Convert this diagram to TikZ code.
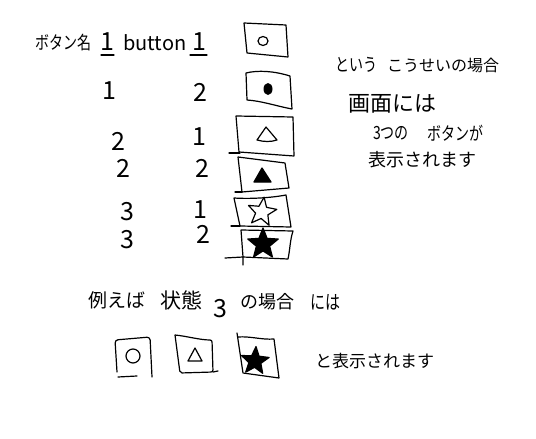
\documentclass[tikz,border=0pt]{standalone}
\usepackage{fontspec}
\setmainfont{Noto Sans CJK JP}
\usetikzlibrary{shapes.geometric}
\tikzset{
  pen/.style={line width=1.2pt,line cap=round,line join=round,black},
  inked/.style={pen,fill=black},
  txt/.style={inner sep=0pt,black,font=\fontsize{14}{14}\selectfont},
  tall/.style={transform shape,yscale=1.3},
  num/.style={inner sep=0pt,black,font=\fontsize{25}{25}\selectfont},
  starout/.style={star,star points=5,star point ratio=2.3,inner sep=0pt,pen,draw},
  starfull/.style={starout,fill=black}
}
\begin{document}
\begin{tikzpicture}[x=1pt,y=-1pt]
\useasboundingbox (0,0) rectangle (536,439);
\fill[white] (0,0) rectangle (536,439);
% table heading
\node[txt,tall,anchor=west] (h1) at (35,43) {ボタン名};
\node[num,anchor=center] (h2) at (107,42) {1};
\draw[pen] (101,55) -- (114,55);
\node[txt,anchor=west,font=\fontsize{20}{20}\selectfont] (h3) at (123,43) {button};
\node[num,anchor=center] (h4) at (199,42) {1};
\draw[pen] (190,55) -- (207,55);
% digits
\node[num] (a1) at (109,91) {1};
\node[num] (a2) at (200,92) {2};
\node[num] (b1) at (118,141) {2};
\node[num] (b2) at (199,137) {1};
\node[num] (c1) at (123,168) {2};
\node[num] (c2) at (202,168) {2};
\node[num] (d1) at (127,212) {3};
\node[num] (d2) at (200,210) {1};
\node[num] (e1) at (127,240) {3};
\node[num] (e2) at (203,234) {2};
% button column
\draw[pen] (244,23) -- (286,25) -- (288,57) -- (247,53) -- cycle;
\draw[pen] (263,41) ellipse (5 and 4.5);
\draw[pen] (246,73) .. controls (258,70) and (274,71) .. (290,76) -- (292,109) .. controls (276,106) and (262,101) .. (247,100) -- cycle;
\fill (268,89) ellipse (4.5 and 6);
\draw[pen] (236,116) -- (293,117) -- (294,156) -- (239,152) -- cycle;
\draw[pen] (229,153) -- (240,153);
\draw[pen] (266,127) -- (257,140) .. controls (264,142) and (271,142) .. (277,140) -- cycle;
\draw[pen] (238,157) -- (285,163) -- (289,188) -- (242,192) -- cycle;
\draw[pen] (235,192) -- (242,192);
\draw[inked] (262,168) -- (254,182) -- (271,182) -- cycle;
\draw[pen] (234,198) .. controls (250,199) and (270,198) .. (286,195) -- (291,227) -- (240,226) -- cycle;
\draw[pen] (231,226) -- (240,226);
\node[starout,minimum size=30pt,rotate=-8] (s1) at (262,212) {};
\draw[pen] (241,230) -- (293,231) .. controls (290,240) and (290,250) .. (288,259) -- (243,257) -- cycle;
\draw[pen] (225,258) -- (243,257) -- (243,265);
\node[starfull,minimum size=32pt] (s2) at (263,244) {};
% right notes
\node[txt,tall,anchor=west] (r1) at (335,65) {という};
\node[txt,anchor=west,font=\fontsize{16}{16}\selectfont] (r2) at (387,65) {こうせいの場合};
\node[txt,anchor=west,font=\fontsize{22}{22}\selectfont] (r3) at (348,104) {画面には};
\node[txt,tall,anchor=west] (r4) at (373,133) {3つの};
\node[txt,tall,anchor=west] (r5) at (427,133) {ボタンが};
\node[txt,anchor=west,font=\fontsize{18}{18}\selectfont] (r6) at (368,160) {表示されます};
% bottom caption
\node[txt,anchor=west,font=\fontsize{19}{19}\selectfont] (q1) at (88,300) {例えば};
\node[txt,anchor=west,font=\fontsize{21}{21}\selectfont] (q2) at (160,300) {状態};
\node[num] (q3) at (220,309) {3};
\node[txt,anchor=west,font=\fontsize{18}{18}\selectfont] (q4) at (240,302) {の場合};
\node[txt,tall,anchor=west,font=\fontsize{15}{15}\selectfont] (q5) at (310,302) {には};
% bottom buttons
\draw[pen,rounded corners=3pt] (117,372) -- (115,340) -- (150,337) -- (152,377);
\draw[pen] (118,377) -- (137,376);
\draw[pen] (133,356) circle (7);
\draw[pen,rounded corners=2pt] (175,335) -- (180,373) -- (213,372) -- (212,340) .. controls (200,340) and (186,336) .. (175,335);
\draw[pen] (213,372) -- (218,371);
\draw[pen] (195,348) -- (188,361) -- (202,361) -- cycle;
\draw[pen] (237,333) -- (243,373) -- (279,378) -- (274,339) .. controls (262,340) and (250,336) .. (238,337);
\node[starfull,minimum size=29pt,rotate=-4] (s3) at (255,361) {};
\node[txt,anchor=west,font=\fontsize{17}{17}\selectfont] (t1) at (315,361) {と表示されます};
\end{tikzpicture}
\end{document}
